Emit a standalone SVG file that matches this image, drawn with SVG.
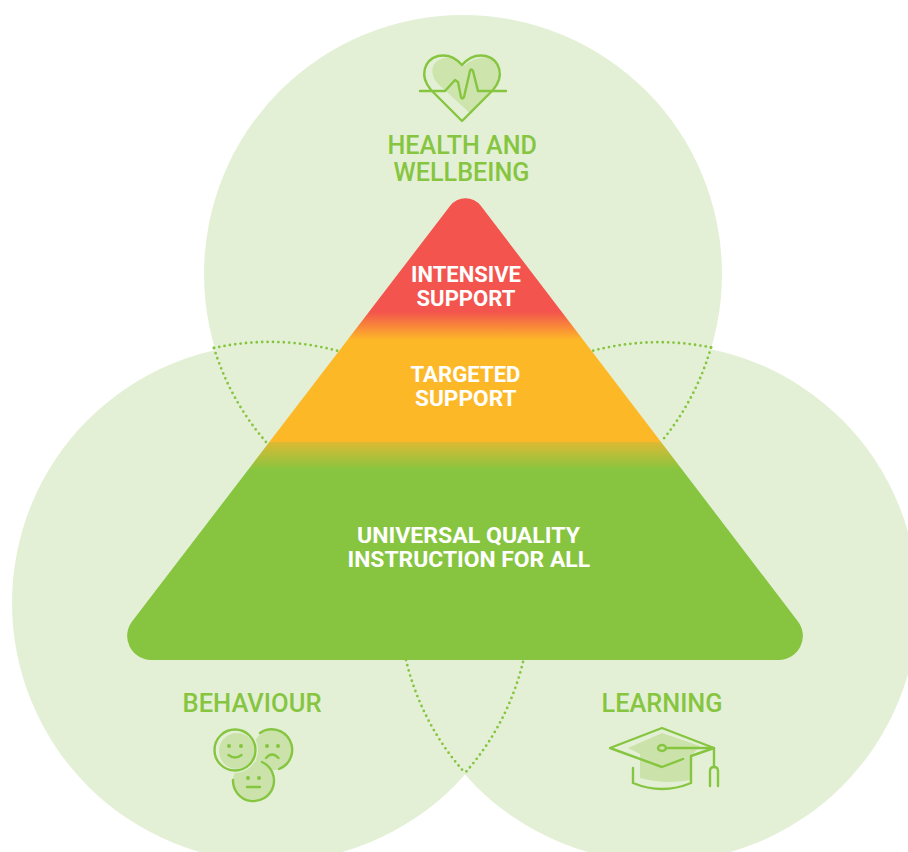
<svg xmlns="http://www.w3.org/2000/svg" width="908" height="852" viewBox="0 0 908 852">
<style>
.c{fill:#e4f0d6}
.d{fill:none;stroke:#86c540;stroke-width:2.8;stroke-dasharray:0 5.4;stroke-linecap:round}
.g{fill:#86c540;font-family:Roboto,"Liberation Sans",sans-serif;font-weight:500;font-size:25.5px}
.w{fill:#fff;font-family:Roboto,"Liberation Sans",sans-serif;font-weight:700;font-size:22.5px}
.i{fill:none;stroke:#86c540;stroke-width:2.4;stroke-linecap:round;stroke-linejoin:round}
.l{fill:#cbe3aa}
.e{fill:#86c540}
</style>
<defs>
<linearGradient id="pg" gradientUnits="userSpaceOnUse" x1="0" y1="199" x2="0" y2="660">
<stop offset="0.245" stop-color="#f3544d"/>
<stop offset="0.306" stop-color="#fdb827"/>
<stop offset="0.527" stop-color="#fdb827"/>
<stop offset="0.528" stop-color="#dcb934"/>
<stop offset="0.588" stop-color="#87c540"/>
<stop offset="1" stop-color="#87c540"/>
</linearGradient>
</defs>
<g id="circles">
<circle class="c" cx="463" cy="274" r="259"/>
<circle class="c" cx="271" cy="603" r="259"/>
<circle class="c" cx="659" cy="603" r="259"/>
</g>
<g id="connectors">
<path class="d" d="M214 348A259 259 0 0 1 338 351"/>
<path class="d" d="M214 348A259 259 0 0 0 266 442"/>
<path class="d" d="M711 347.500A259 259 0 0 0 592 351"/>
<path class="d" d="M711 347.500A259 259 0 0 1 661 442"/>
<path class="d" d="M406 660A259 259 0 0 0 465 773"/>
<path class="d" d="M523 662A259 259 0 0 1 465 773"/>
</g>
<g id="pyramid">
<path fill="url(#pg)" d="M450 206A19.500 19.500 0 0 1 481 206L798 621.500A24 24 0 0 1 779 660H151A24 24 0 0 1 132 621.500Z"/>
<text class="w" x="411" y="282" textLength="110" lengthAdjust="spacingAndGlyphs">INTENSIVE</text>
<text class="w" x="416.500" y="306" textLength="99" lengthAdjust="spacingAndGlyphs">SUPPORT</text>
<text class="w" x="410.500" y="382" textLength="110" lengthAdjust="spacingAndGlyphs">TARGETED</text>
<text class="w" x="415" y="406" textLength="101.500" lengthAdjust="spacingAndGlyphs">SUPPORT</text>
<text class="w" x="357" y="543" textLength="223" lengthAdjust="spacingAndGlyphs">UNIVERSAL QUALITY</text>
<text class="w" x="347.500" y="567" textLength="242.500" lengthAdjust="spacingAndGlyphs">INSTRUCTION FOR ALL</text>
</g>
<g id="health">
<path class="l" d="M471 114L438 84C428 72 432 60 445 58C452 57 460 62 464 66C470 60 480 56 489 58C499 62 500 74 496 85Z" opacity=".95"/>
<path class="i" d="M462 121L431 90C419 76 424 60 438 56C448 54 456 58 462 65C468 58 476 54 486 56C500 60 505 76 493 90Z"/>
<path class="i" d="M420 91H445L455 80L458 82L461 97Q462 100 464 97L470 71Q471 68 473 71L478 91H506"/>
<text class="g" x="387.500" y="154" textLength="149.500" lengthAdjust="spacingAndGlyphs">HEALTH AND</text>
<text class="g" x="393.500" y="181" textLength="136" lengthAdjust="spacingAndGlyphs">WELLBEING</text>
</g>
<g id="behaviour">
<text class="g" x="182.500" y="712" textLength="139" lengthAdjust="spacingAndGlyphs">BEHAVIOUR</text>
<circle class="l" cx="273" cy="750" r="20"/>
<circle class="l" cx="253" cy="781" r="20"/>
<circle cx="235" cy="750" r="23" fill="#e4f0d6"/>
<circle class="l" cx="237" cy="751" r="18"/>
<circle class="i" cx="235" cy="750" r="20.500"/>
<path class="i" d="M260 733A20.500 20.500 0 1 1 279 769"/>
<path class="i" d="M262 762A20.500 20.500 0 1 1 233 780"/>
<circle class="e" cx="229" cy="746" r="2"/><circle class="e" cx="241" cy="746" r="2"/>
<circle class="e" cx="267" cy="746" r="2"/><circle class="e" cx="278" cy="746" r="2"/>
<circle class="e" cx="248" cy="778" r="2"/><circle class="e" cx="259" cy="778" r="2"/>
<path class="i" d="M228.500 755Q235 760 241.500 755"/>
<path class="i" d="M266 758Q272 751 278.500 758"/>
<path class="i" d="M247 787H260"/>
</g>
<g id="learning">
<text class="g" x="601.500" y="712" textLength="121" lengthAdjust="spacingAndGlyphs">LEARNING</text>
<path class="l" d="M628 748L662 733L700 746L691 756V780Q665 785 640 778V754Z"/>
<path class="i" d="M683 759L662 767L610 748L662 728L714 748L691 756V783Q662 795 633 783V768"/>
<path class="i" d="M666 748H714V767"/>
<ellipse class="i" cx="662" cy="748" rx="4" ry="3"/>
<path class="i" d="M710 786V771Q710 767 714 767Q718 767 718 771V786"/>
</g>
</svg>
